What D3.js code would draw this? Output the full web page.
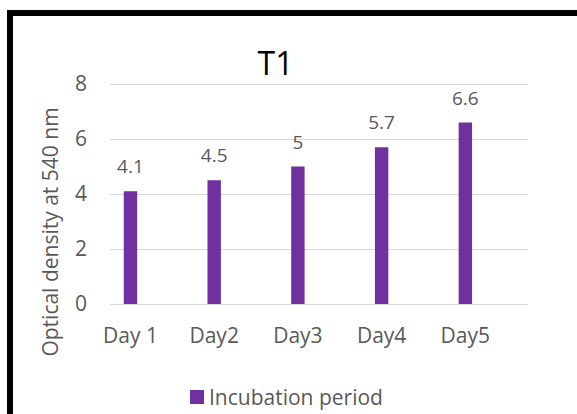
<!DOCTYPE html>
<html>
<head>
<meta charset="utf-8">
<script src="https://cdn.jsdelivr.net/npm/d3@7"></script>
<style>
  body { margin: 0; background: #fff; }
  svg text { font-family: "Open Sans", sans-serif; }
</style>
</head>
<body>
<svg width="577" height="414"></svg>
<script>
var days = ['Day 1', 'Day2', 'Day3', 'Day4', 'Day5'];
var density = [4.1, 4.5, 5, 5.7, 6.6];
var yTicks = [0, 2, 4, 6, 8];

var svg = d3.select('svg');
var textColor = '#595959';
var barColor = '#7030A0';

// outer frame, only its top and left edges are in view
svg.append('rect')
  .attr('x', 10).attr('y', 13)
  .attr('width', 700).attr('height', 500)
  .attr('fill', 'none')
  .attr('stroke', '#000')
  .attr('stroke-width', 6);

var xscale = d3.scaleBand()
  .domain(days)
  .range([88.6, 507.2])
  .paddingInner(0.84)
  .paddingOuter(0.42);

var yscale = d3.scaleLinear()
  .domain([0, 8])
  .range([304, 84]);

var gridLeft = 110, gridRight = 528;

// y axis with gridlines
var yaxis = svg.append('g')
  .attr('transform', `translate(${gridLeft},0)`)
  .call(d3.axisLeft(yscale).tickValues(yTicks).tickSize(-(gridRight - gridLeft)).tickPadding(23));
yaxis.select('.domain').remove();
yaxis.selectAll('line').attr('stroke', '#D9D9D9').attr('stroke-width', 1.2);
yaxis.selectAll('text').attr('fill', textColor).style('font-size', '21px');

// x axis labels
var xaxis = svg.append('g')
  .attr('transform', `translate(0,${yscale(0)})`)
  .call(d3.axisBottom(xscale).tickSize(0).tickPadding(0));
xaxis.select('.domain').remove();
xaxis.selectAll('text')
  .attr('y', 39).attr('dy', 0)
  .attr('fill', textColor).style('font-size', '21px');

// bars
svg.append('g').selectAll('rect').data(density)
  .enter()
  .append('rect')
  .attr('x', (d, i) => xscale(days[i]))
  .attr('y', d => yscale(d))
  .attr('width', xscale.bandwidth())
  .attr('height', d => yscale(0) - yscale(d))
  .attr('fill', barColor);

// value labels
svg.append('g').selectAll('text').data(density)
  .enter()
  .append('text')
  .attr('x', (d, i) => xscale(days[i]) + xscale.bandwidth() / 2)
  .attr('y', d => yscale(d) - 18)
  .attr('text-anchor', 'middle')
  .attr('fill', textColor)
  .style('font-size', '19px')
  .text(d => d);

// title
svg.append('text')
  .attr('x', 275.5).attr('y', 75)
  .attr('text-anchor', 'middle')
  .attr('fill', '#000')
  .style('font-size', '32px')
  .text('T1');

// y axis title
svg.append('text')
  .attr('transform', 'translate(58,232) rotate(-90)')
  .attr('text-anchor', 'middle')
  .attr('fill', textColor)
  .style('font-size', '21px')
  .text('Optical density at 540 nm');

// legend
var legend = svg.append('g').attr('transform', 'translate(190,390)');
legend.append('rect').attr('width', 14).attr('height', 14).attr('fill', barColor);
legend.append('text')
  .attr('x', 19).attr('y', 15)
  .attr('fill', textColor)
  .style('font-size', '21px')
  .text('Incubation period');
</script>
</body>
</html>
